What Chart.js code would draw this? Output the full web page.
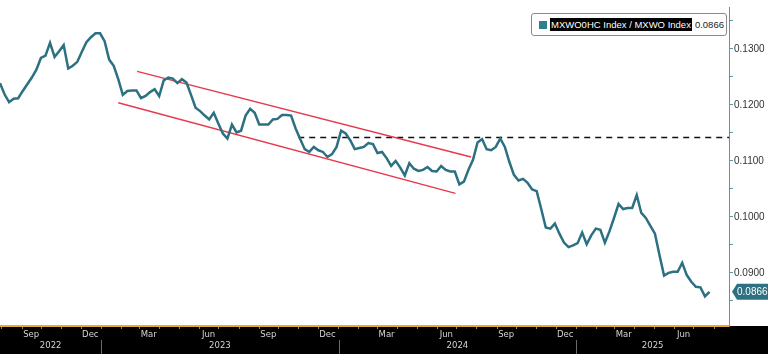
<!DOCTYPE html>
<html>
<head>
<meta charset="utf-8">
<script src="https://cdn.jsdelivr.net/npm/chart.js@4.4.1/dist/chart.umd.min.js"></script>
<style>
  html, body { margin: 0; padding: 0; background: #fff; }
  #wrap { position: relative; width: 768px; height: 354px; }
  #legend {
    position: absolute; left: 531px; top: 13px; width: 196px; height: 23px;
    box-sizing: border-box; border: 1px solid #8a8a8a; border-radius: 3px; background: #fff;
    font: 9.5px 'Liberation Sans', Arial, sans-serif; display: flex; align-items: center;
    padding-left: 7px; white-space: nowrap;
  }
  #legend .sw { width: 8px; height: 8px; background: #2f7f8e; margin-right: 3px; }
  #legend .nm { background: #000; color: #fff; padding: 1px 1px; }
  #legend .val { color: #222; margin-left: 3px; }
</style>
</head>
<body>
<div id="wrap">
  <canvas id="chart" width="768" height="354"></canvas>
  <div id="legend"><span class="sw"></span><span class="nm" id="legName"></span><span class="val" id="legVal"></span></div>
</div>
<script>
// weekly closes, MSCI World Health Care relative to MSCI World
const seriesName = 'MXWO0HC Index / MXWO Index';
const firstWeek = '2022-07-29';
const ratio = [
  0.1239, 0.1219, 0.1205, 0.1211, 0.1212, 0.1225, 0.1237, 0.1249, 0.1263, 0.1284,
  0.1288, 0.1311, 0.1286, 0.1296, 0.1307, 0.1265, 0.1270, 0.1277, 0.1295, 0.1312,
  0.1321, 0.1328, 0.1328, 0.1314, 0.1281, 0.1270, 0.1246, 0.1218, 0.1225, 0.1226,
  0.1226, 0.1212, 0.1216, 0.1223, 0.1228, 0.1216, 0.1244, 0.1249, 0.1247, 0.1239,
  0.1246, 0.1240, 0.1218, 0.1195, 0.1189, 0.1181, 0.1174, 0.1186, 0.1167, 0.1149,
  0.1140, 0.1165, 0.1151, 0.1154, 0.1181, 0.1193, 0.1186, 0.1165, 0.1165, 0.1165,
  0.1174, 0.1175, 0.1182, 0.1182, 0.1181, 0.1158, 0.1139, 0.1121, 0.1116, 0.1125,
  0.1119, 0.1116, 0.1107, 0.1112, 0.1125, 0.1154, 0.1149, 0.1137, 0.1121, 0.1123,
  0.1125, 0.1132, 0.1130, 0.1114, 0.1116, 0.1105, 0.1091, 0.1100, 0.1088, 0.1074,
  0.1096, 0.1086, 0.1082, 0.1084, 0.1089, 0.1082, 0.1081, 0.1091, 0.1084, 0.1081,
  0.1081, 0.1058, 0.1063, 0.1084, 0.1102, 0.1133, 0.1139, 0.1121, 0.1119, 0.1125,
  0.1140, 0.1125, 0.1098, 0.1075, 0.1065, 0.1068, 0.1061, 0.1049, 0.1046, 0.1014,
  0.0981, 0.0979, 0.0988, 0.0970, 0.0954, 0.0946, 0.0949, 0.0953, 0.0972, 0.0951,
  0.0967, 0.0979, 0.0977, 0.0954, 0.0974, 0.0998, 0.1023, 0.1014, 0.1016, 0.1016,
  0.1039, 0.1007, 0.0998, 0.0984, 0.0970, 0.0932, 0.0895, 0.0900, 0.0902, 0.0902,
  0.0918, 0.0896, 0.0884, 0.0875, 0.0874, 0.0858, 0.0866
];
const lastValue = 0.0866;

// drawn trend channel and resistance level
const channelTop = [['2023-02-25', 0.1260], ['2024-07-23', 0.1107]];
const channelBottom = [['2023-01-27', 0.1204], ['2024-06-29', 0.1042]];
const resistance = [['2023-10-31', 0.1142], ['2025-08-24', 0.1142]];

// axes
const xStart = '2022-07-29';
const xEnd = '2025-08-24';
const quarterMonths = ['2022-09', '2022-12', '2023-03', '2023-06', '2023-09', '2023-12',
                       '2024-03', '2024-06', '2024-09', '2024-12', '2025-03', '2025-06'];
const years = [2022, 2023, 2024, 2025];
const yMajor = [0.09, 0.10, 0.11, 0.12, 0.13];
const yMinor = [0.085, 0.095, 0.105, 0.115, 0.125, 0.135];
const monthNames = ['Jan','Feb','Mar','Apr','May','Jun','Jul','Aug','Sep','Oct','Nov','Dec'];

const BASE = Date.UTC(2022, 0, 1);
const dayOf = s => (Date.parse(s) - BASE) / 864e5;
const xMin = dayOf(xStart), xMax = dayOf(xEnd);

const lineColor = '#2c7081';
const channelColor = '#e8384f';

const ratioPoints = ratio.map((v, i) => ({ x: dayOf(firstWeek) + i * 7, y: v }));
const toPts = arr => arr.map(p => ({ x: dayOf(p[0]), y: p[1] }));

// month starts for the small ticks on the time axis
const monthStarts = [];
for (let y = 2022; y <= 2025; y++) {
  for (let m = 0; m < 12; m++) {
    const d = (Date.UTC(y, m, 1) - BASE) / 864e5;
    if (d >= xMin && d <= xMax) monthStarts.push(d);
  }
}
const quarterTicks = quarterMonths.map(s => ({ value: dayOf(s + '-15'), label: monthNames[+s.slice(5) - 1] }));
const yearTicks = years.map(y => {
  const a = Math.max(xMin, dayOf(y + '-01-01'));
  const b = Math.min(xMax, dayOf((y + 1) + '-01-01'));
  return { value: (a + b) / 2, label: String(y) };
});

document.getElementById('legName').textContent = seriesName;
document.getElementById('legVal').textContent = lastValue.toFixed(4);

const frame = {
  id: 'frame',
  beforeDraw(chart) {
    const { ctx, chartArea } = chart;
    ctx.save();
    ctx.fillStyle = '#000';
    ctx.fillRect(0, chartArea.bottom, chart.width, chart.height - chartArea.bottom);
    ctx.restore();
  },
  afterDraw(chart) {
    const { ctx, chartArea, scales } = chart;
    ctx.save();
    // year separators in the date band
    ctx.strokeStyle = '#6b6b6b';
    ctx.lineWidth = 1;
    years.slice(1).forEach(y => {
      const px = Math.round(scales.x.getPixelForValue(dayOf(y + '-01-01'))) + 0.5;
      ctx.beginPath();
      ctx.moveTo(px, chartArea.bottom + 14);
      ctx.lineTo(px, chart.height);
      ctx.stroke();
    });
    // last value tag
    const yy = scales.y.getPixelForValue(lastValue);
    const x0 = chartArea.right + 3;
    ctx.fillStyle = lineColor;
    ctx.beginPath();
    ctx.moveTo(x0, yy);
    ctx.lineTo(x0 + 5, yy - 8);
    ctx.lineTo(chart.width, yy - 8);
    ctx.lineTo(chart.width, yy + 8);
    ctx.lineTo(x0 + 5, yy + 8);
    ctx.closePath();
    ctx.fill();
    ctx.fillStyle = '#fff';
    ctx.font = "10px 'Liberation Sans', Arial, sans-serif";
    ctx.textBaseline = 'middle';
    ctx.fillText(lastValue.toFixed(4), x0 + 5, yy + 0.5);
    ctx.restore();
  }
};

new Chart(document.getElementById('chart'), {
  type: 'line',
  data: {
    datasets: [
      { data: ratioPoints, borderColor: lineColor, borderWidth: 2.5, pointRadius: 0, order: 0 },
      { data: toPts(channelTop), borderColor: channelColor, borderWidth: 1.5, pointRadius: 0, order: 1 },
      { data: toPts(channelBottom), borderColor: channelColor, borderWidth: 1.5, pointRadius: 0, order: 1 },
      { data: toPts(resistance), borderColor: '#111', borderWidth: 1.5, borderDash: [6, 5], pointRadius: 0, order: 1 }
    ]
  },
  options: {
    responsive: false,
    animation: false,
    layout: { padding: 0 },
    plugins: { legend: { display: false }, tooltip: { enabled: false } },
    scales: {
      x: {
        type: 'linear', position: 'bottom', min: xMin, max: xMax, weight: 0,
        afterBuildTicks: s => { s.ticks = monthStarts.map(v => ({ value: v })); },
        afterFit: s => { s.height = 2; },
        ticks: { display: false },
        grid: { drawOnChartArea: false, drawTicks: true, tickLength: 3, color: '#8c8c8c' },
        border: { color: '#e3ad2f', width: 2 }
      },
      xm: {
        type: 'linear', position: 'bottom', min: xMin, max: xMax, weight: 1,
        afterBuildTicks: s => { s.ticks = quarterTicks.map(t => ({ value: t.value })); },
        afterFit: s => { s.height = 11; },
        ticks: {
          autoSkip: false, maxRotation: 0, padding: 2, color: '#d4d4d4',
          font: { family: 'DejaVu Sans', size: 8.5 },
          callback: v => (quarterTicks.find(t => t.value === v) || {}).label
        },
        grid: { display: false, drawTicks: false },
        border: { display: false }
      },
      xy: {
        type: 'linear', position: 'bottom', min: xMin, max: xMax, weight: 2,
        afterBuildTicks: s => { s.ticks = yearTicks.map(t => ({ value: t.value })); },
        afterFit: s => { s.height = 15; },
        ticks: {
          autoSkip: false, maxRotation: 0, padding: 2, color: '#d4d4d4',
          font: { family: 'DejaVu Sans', size: 8.5 },
          callback: v => (yearTicks.find(t => t.value === v) || {}).label
        },
        grid: { display: false, drawTicks: false },
        border: { display: false }
      },
      y: {
        type: 'linear', position: 'right', min: 0.0805, max: 0.1375,
        afterBuildTicks: s => { s.ticks = yMajor.concat(yMinor).map(v => ({ value: v })); },
        afterFit: s => { s.width = 39; },
        ticks: {
          padding: 1, color: '#333',
          font: { family: "'Liberation Sans', Arial, sans-serif", size: 10 },
          callback: v => (yMajor.some(m => Math.abs(m - v) < 1e-9) ? v.toFixed(4) : '')
        },
        grid: { drawOnChartArea: false, drawTicks: true, tickLength: 4, color: '#5d97a6' },
        border: { color: '#5d97a6', width: 1 }
      }
    }
  },
  plugins: [frame]
});
</script>
</body>
</html>
